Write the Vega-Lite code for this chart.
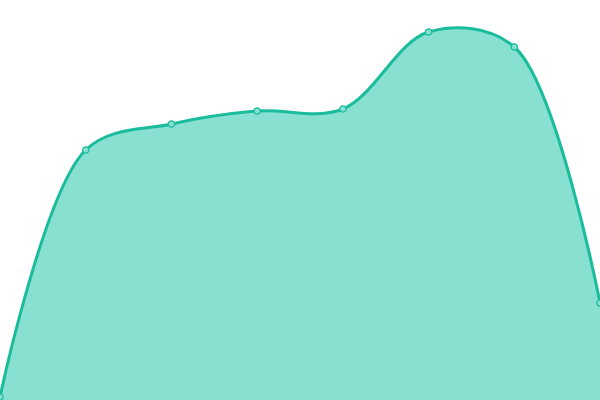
{
  "$schema": "https://vega.github.io/schema/vega-lite/v6.json",
  "autosize": {"type": "fit", "contains": "padding"},
  "width": 600,
  "height": 400,
  "padding": 0,
  "data": {
    "values": [
      {"i": 0, "v": 3},
      {"i": 1, "v": 250},
      {"i": 2, "v": 276},
      {"i": 3, "v": 289},
      {"i": 4, "v": 291},
      {"i": 5, "v": 368},
      {"i": 6, "v": 353},
      {"i": 7, "v": 97}
    ]
  },
  "encoding": {
    "x": {"field": "i", "type": "quantitative", "scale": {"domain": [0, 7], "nice": false}, "axis": null},
    "y": {"field": "v", "type": "quantitative", "scale": {"domain": [0, 400], "nice": false}, "axis": null}
  },
  "layer": [
    {"mark": {"type": "area", "interpolate": "catmull-rom", "color": "#88e0d0", "opacity": 1, "clip": true}},
    {"mark": {"type": "line", "interpolate": "catmull-rom", "color": "#1abc9c", "strokeWidth": 3, "clip": true}},
    {"mark": {"type": "point", "filled": true, "fill": "#88e0d0", "stroke": "#1abc9c", "strokeWidth": 1.2, "opacity": 1, "size": 40, "clip": true}}
  ],
  "config": {"view": {"stroke": null}}
}
